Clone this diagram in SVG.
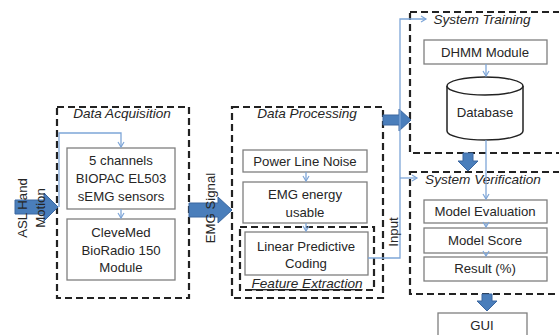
<svg xmlns="http://www.w3.org/2000/svg" width="559" height="335" viewBox="0 0 559 335">
<style>
text{font-family:"Liberation Sans",Arial,sans-serif;fill:#262626;font-size:13.2px;text-anchor:middle}
.t{font-style:italic;font-size:13.6px}
.box{fill:#fff;stroke:#7f7f7f;stroke-width:1.3}
.grp{fill:none;stroke:#222;stroke-width:2.2;stroke-dasharray:7,4}
.thin{fill:none;stroke:#7ea6d8;stroke-width:1.3}
.big{fill:#4a7ebb;stroke:#3a66a0;stroke-width:1}
</style>
<defs>
<marker id="ah" markerWidth="8" markerHeight="8" refX="6" refY="4" orient="auto" markerUnits="userSpaceOnUse">
<path d="M1,1 L6,4 L1,7" fill="none" stroke="#7ea6d8" stroke-width="1.2"/>
</marker>
</defs>
<rect width="559" height="335" fill="#fff"/>

<g id="data-acquisition">
<rect class="grp" x="57" y="107" width="132" height="191"/>
<text class="t" x="122" y="118">Data Acquisition</text>
</g>
<g id="sensors">
<rect class="box" x="67" y="148" width="108" height="61"/>
<text x="121" y="165">5 channels</text>
<text x="121" y="183">BIOPAC EL503</text>
<text x="121" y="201">sEMG sensors</text>
</g>
<g id="bioradio">
<rect class="box" x="67" y="219" width="108" height="61"/>
<text x="121" y="237">CleveMed</text>
<text x="121" y="255">BioRadio 150</text>
<text x="121" y="272">Module</text>
</g>

<g id="data-processing">
<rect class="grp" x="232" y="107" width="151" height="191"/>
<text class="t" x="307" y="118">Data Processing</text>
</g>
<g id="power-line-noise">
<rect class="box" x="243" y="150" width="124" height="22"/>
<text x="305" y="166">Power Line Noise</text>
</g>
<g id="emg-energy">
<rect class="box" x="243" y="182" width="124" height="41"/>
<text x="305" y="199">EMG energy</text>
<text x="305" y="217">usable</text>
</g>
<g id="feature-extraction">
<rect class="grp" x="240" y="227" width="134" height="63"/>
<text class="t" x="307" y="288" text-decoration="underline">Feature Extraction</text>
</g>
<g id="lpc">
<rect class="box" x="245" y="232" width="123" height="43"/>
<text x="306" y="251">Linear Predictive</text>
<text x="306" y="268">Coding</text>
</g>

<g id="system-training">
<rect class="grp" x="410" y="12" width="160" height="141"/>
<text class="t" x="482" y="24">System Training</text>
</g>
<g id="dhmm">
<rect class="box" x="424" y="40" width="123" height="24"/>
<text x="485" y="57">DHMM Module</text>
</g>
<g id="database">
<path d="M447,86 L447,131 A38,9 0 0 0 523,131 L523,86" fill="#fff" stroke="#222" stroke-width="1.5"/>
<ellipse cx="485" cy="86" rx="38" ry="9" fill="#fff" stroke="#222" stroke-width="1.5"/>
<text x="485" y="117">Database</text>
</g>

<g id="system-verification">
<rect class="grp" x="410" y="172" width="160" height="122"/>
<text class="t" x="483" y="184">System Verification</text>
</g>
<g id="model-evaluation">
<rect class="box" x="424" y="200" width="123" height="23"/>
<text x="485" y="216">Model Evaluation</text>
</g>
<g id="model-score">
<rect class="box" x="424" y="228" width="123" height="25"/>
<text x="485" y="245">Model Score</text>
</g>
<g id="result">
<rect class="box" x="424" y="257" width="123" height="24"/>
<text x="485" y="273">Result (%)</text>
</g>
<g id="gui">
<rect class="box" x="438" y="313" width="89" height="30"/>
<text x="482" y="330">GUI</text>
</g>

<g id="connectors">
<path class="big" d="M15,200 L44,200 L44,193 L58,207 L44,221 L44,214 L15,214 Z"/>
<path class="big" d="M189,203 L218,203 L218,197 L232,210 L218,223 L218,217 L189,217 Z"/>
<path class="big" d="M383,115 L399,115 L399,109 L411,120 L399,131 L399,125 L383,125 Z"/>
<path class="big" d="M463,153 L473,153 L473,161 L478,161 L468,171 L458,161 L463,161 Z"/>
<path class="big" d="M482,294 L492,294 L492,301 L497,301 L487,311 L477,301 L482,301 Z"/>
<path class="thin" d="M59,207 L59,133 L121,133 L121,147" marker-end="url(#ah)"/>
<path class="thin" d="M121,209 L121,218" marker-end="url(#ah)"/>
<path class="thin" d="M306,172 L306,181" marker-end="url(#ah)"/>
<path class="thin" d="M306,223 L306,231" marker-end="url(#ah)"/>
<path class="thin" d="M368,258 L400,258 L400,19 L426,19" marker-end="url(#ah)"/>
<path class="thin" d="M400,178 L417,178" marker-end="url(#ah)"/>
<path class="thin" d="M486,64 L486,76" marker-end="url(#ah)"/>
<path class="thin" d="M486,140 L486,199" marker-end="url(#ah)"/>
<path class="thin" d="M486,223 L486,227" marker-end="url(#ah)"/>
<path class="thin" d="M486,253 L486,256" marker-end="url(#ah)"/>
</g>

<g id="labels">
<text transform="translate(27,208) rotate(-90)">ASL Hand</text>
<text transform="translate(45,208) rotate(-90)">Motion</text>
<text transform="translate(215,208) rotate(-90)">EMG Signal</text>
<text transform="translate(398,232) rotate(-90)">Input</text>
</g>
</svg>
